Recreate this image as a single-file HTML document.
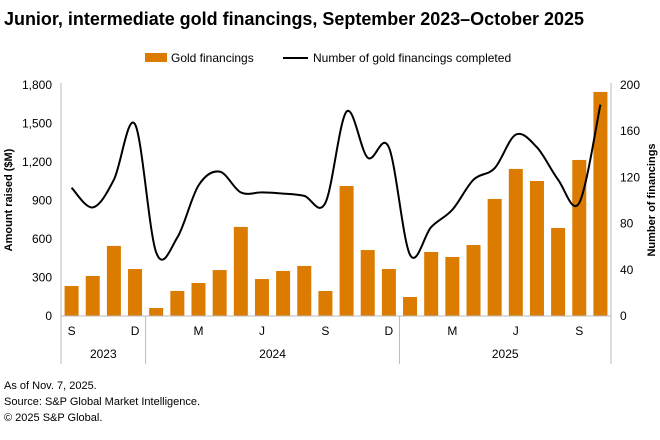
<!DOCTYPE html>
<html><head><meta charset="utf-8"><style>
body{margin:0;background:#fff;font-family:"Liberation Sans",sans-serif;}
svg text{font-family:"Liberation Sans",sans-serif;}
</style></head><body>
<svg id="c" width="660" height="435">
<text x="4" y="25" font-size="18" font-weight="bold" fill="#000" textLength="580" lengthAdjust="spacingAndGlyphs">Junior, intermediate gold financings, September 2023–October 2025</text>
<g>
<rect x="145" y="53" width="22" height="9" fill="#db7b00"/>
<text x="171" y="62" font-size="12">Gold financings</text>
<line x1="283" y1="58" x2="308" y2="58" stroke="#000" stroke-width="2"/>
<text x="313" y="62" font-size="12">Number of gold financings completed</text>
</g>
<text transform="translate(12,200) rotate(-90)" text-anchor="middle" font-size="11" font-weight="bold">Amount raised ($M)</text>
<text transform="translate(655,200) rotate(-90)" text-anchor="middle" font-size="11" font-weight="bold">Number of financings</text>
<g id="g"></g>
<text x="4" y="389" font-size="11">As of Nov. 7, 2025.</text>
<text x="4" y="405" font-size="11">Source: S&amp;P Global Market Intelligence.</text>
<text x="4" y="421" font-size="11">© 2025 S&amp;P Global.</text>
</svg>
<script>
const months=["S","O","N","D","J","F","M","A","M","J","J","A","S","O","N","D","J","F","M","A","M","J","J","A","S","O"];
const amounts=[234,312,546,366,62,195,257,358,694,288,351,390,195,1013,514,366,148,499,460,553,912,1146,1052,686,1216,1746];
const counts=[111,94,118,166,55,68,113,125,107,107,106,104,98,177,137,146,53,77,92,118,128,157,146,118,98,183];
const leftTicks=[0,300,600,900,1200,1500,1800];
const rightTicks=[0,40,80,120,160,200];
const years=[{label:"2023",from:0,to:4},{label:"2024",from:4,to:16},{label:"2025",from:16,to:26}];
const NS="http://www.w3.org/2000/svg";
const g=document.getElementById('g');
const X0=61,X1=611,Y0=316,Y1=85;
const step=(X1-X0)/months.length;
const xc=i=>X0+step*(i+0.5);
const yL=v=>Y0-(v/1800)*(Y0-Y1);
const yR=v=>Y0-(v/200)*(Y0-Y1);
function el(t,a){const e=document.createElementNS(NS,t);for(const k in a)e.setAttribute(k,a[k]);g.appendChild(e);return e;}
leftTicks.forEach(v=>{const t=el('text',{x:52,y:yL(v)+4,'text-anchor':'end','font-size':12});t.textContent=v.toLocaleString('en-US');

});
rightTicks.forEach(v=>{const t=el('text',{x:620,y:yR(v)+4,'font-size':12});t.textContent=v;

});
const ax=el('line',{x1:X0,y1:Y1-2,x2:X0,y2:Y0,stroke:'#bbb'});


const ax2=el('line',{x1:X1,y1:Y1-2,x2:X1,y2:Y0,stroke:'#bbb'});


amounts.forEach((v,i)=>{const r=el('rect',{x:xc(i)-7,y:yL(v),width:14,height:Y0-yL(v),fill:'#db7b00'});

});
const xa=el('line',{x1:X0,y1:Y0,x2:X1,y2:Y0,stroke:'#bbb'});


const pts=counts.map((v,i)=>[xc(i),yR(v)]);
let d='M'+pts[0][0]+','+pts[0][1];
for(let i=0;i<pts.length-1;i++){const p0=pts[Math.max(0,i-1)],p1=pts[i],p2=pts[i+1],p3=pts[Math.min(pts.length-1,i+2)];
const c1=[p1[0]+(p2[0]-p0[0])/6,p1[1]+(p2[1]-p0[1])/6],c2=[p2[0]-(p3[0]-p1[0])/6,p2[1]-(p3[1]-p1[1])/6];
d+=' C'+c1+' '+c2+' '+p2;}
const ln=el('path',{d:d,fill:'none',stroke:'#000','stroke-width':2});


months.forEach((m,i)=>{if([0,3,6,9,12,15,18,21,24].includes(i)){const t=el('text',{x:xc(i),y:335,'text-anchor':'middle','font-size':12});t.textContent=m;

}});
years.forEach(y=>{const xs=X0+step*y.from,xe=X0+step*y.to;
const l=el('line',{x1:xs,y1:Y0,x2:xs,y2:364,stroke:'#bbb'});


const t=el('text',{x:(xs+xe)/2,y:358,'text-anchor':'middle','font-size':12});t.textContent=y.label;

});
const le=el('line',{x1:X1,y1:Y0,x2:X1,y2:364,stroke:'#bbb'});


</script>
</body></html>
